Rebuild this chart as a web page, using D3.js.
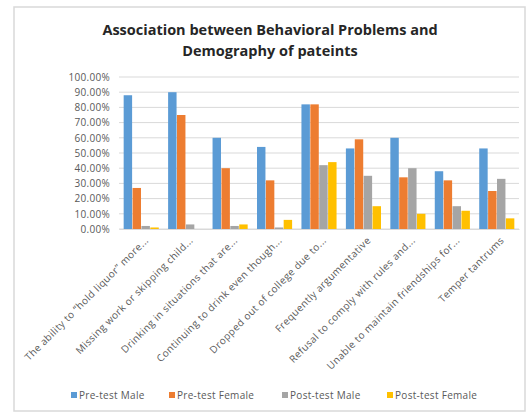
<!DOCTYPE html>
<html lang="en">
<head>
  <meta charset="utf-8">
  <title>Behavioral problems chart</title>
  <script src="https://d3js.org/d3.v7.min.js"></script>
  <style>
  body { margin: 0; background: #fff; }
  svg { font-family: "Open Sans", "Liberation Sans", sans-serif; }
  </style>
</head>
<body>
<script>
var categories = [
  "The ability to \u201chold liquor\u201d more...",
  "Missing work or skipping child...",
  "Drinking in situations that are...",
  "Continuing to drink even though...",
  "Dropped out of college due to...",
  "Frequently argumentative",
  "Refusal to comply with rules and...",
  "Unable to maintain friendships for...",
  "Temper tantrums"
];
var seriesNames = ["Pre-test Male", "Pre-test Female", "Post-test Male", "Post-test Female"];
var preMale    = [88, 90, 60, 54, 82, 53, 60, 38, 53];
var preFemale  = [27, 75, 40, 32, 82, 59, 34, 32, 25];
var postMale   = [2, 3, 2, 1, 42, 35, 40, 15, 33];
var postFemale = [1, 0, 3, 6, 44, 15, 10, 12, 7];
var yTicks = [0, 10, 20, 30, 40, 50, 60, 70, 80, 90, 100];
var colors = ["#5b9bd5", "#ed7d31", "#a5a5a5", "#ffc000"];

var allSeries = [preMale, preFemale, postMale, postFemale];

var W = 528, H = 414;
var plot = {left: 119, right: 519, top: 77, bottom: 229};

var svg = d3.select("body").append("svg")
  .attr("width", W)
  .attr("height", H);

// chart frame
svg.append("rect")
  .attr("x", 14).attr("y", 7)
  .attr("width", 511).attr("height", 404)
  .attr("fill", "#fff")
  .attr("stroke", "#d9d9d9")
  .attr("stroke-width", 1.5);

var title = ["Association between Behavioral Problems and", "Demography of pateints"];
svg.append("g")
  .selectAll("text")
  .data(title)
  .join("text")
  .attr("x", 270).attr("y", (d, i) => 35 + i * 21)
  .attr("text-anchor", "middle")
  .attr("font-size", 14.5).attr("font-weight", "bold").attr("fill", "#262626")
  .text(d => d);

var x0 = d3.scaleBand()
  .domain(d3.range(categories.length))
  .range([plot.left, plot.right])
  .paddingInner(0.19).paddingOuter(0.095);

var x1 = d3.scaleBand()
  .domain(d3.range(seriesNames.length))
  .range([0, x0.bandwidth()])
  .padding(0.05);

var y = d3.scaleLinear().domain([0, 100]).range([plot.bottom, plot.top]);

// gridlines
svg.append("g")
  .selectAll("line")
  .data(yTicks)
  .join("line")
  .attr("x1", plot.left).attr("x2", plot.right)
  .attr("y1", d => y(d)).attr("y2", d => y(d))
  .attr("stroke", "#d9d9d9").attr("stroke-width", 1);

// y axis labels
var yAxis = d3.axisLeft(y)
  .tickValues(yTicks)
  .tickSize(0)
  .tickPadding(9)
  .tickFormat(d => d.toFixed(2) + "%");
var gy = svg.append("g")
  .attr("transform", "translate(" + plot.left + ",0)")
  .call(yAxis);
gy.select(".domain").remove();
gy.selectAll("text")
  .attr("font-size", 10).attr("fill", "#595959")
  .attr("letter-spacing", 0.3)
  .attr("font-family", "'Open Sans', sans-serif");

// bars
var groups = svg.append("g")
  .selectAll("g")
  .data(categories)
  .join("g")
  .attr("transform", (d, i) => "translate(" + x0(i) + ",0)");

groups.selectAll("rect")
  .data((d, i) => allSeries.map((s, k) => ({k: k, v: s[i]})))
  .join("rect")
  .attr("x", d => x1(d.k))
  .attr("width", x1.bandwidth())
  .attr("y", d => y(d.v))
  .attr("height", d => y(0) - y(d.v))
  .attr("fill", d => colors[d.k]);

// x axis
var xAxis = d3.axisBottom(d3.scaleBand().domain(categories).range([plot.left, plot.right]))
  .tickSize(0)
  .tickPadding(0);
var gx = svg.append("g")
  .attr("transform", "translate(0," + plot.bottom + ")")
  .call(xAxis);
gx.select(".domain").attr("stroke", "#d9d9d9");
gx.selectAll("text")
  .attr("font-size", 10).attr("fill", "#595959")
  .attr("letter-spacing", 0.4)
  .attr("font-family", "'Open Sans', sans-serif")
  .attr("text-anchor", "end")
  .attr("dy", 0)
  .attr("transform", "translate(8,12) rotate(-45)");

// legend
var legendX = [71, 169, 282, 387];
var leg = svg.append("g")
  .selectAll("g")
  .data(seriesNames)
  .join("g")
  .attr("transform", (d, i) => "translate(" + legendX[i] + ",396)");
leg.append("rect")
  .attr("x", 0).attr("y", -4)
  .attr("width", 6).attr("height", 6)
  .attr("fill", (d, i) => colors[i]);
leg.append("text")
  .attr("x", 8).attr("y", 3)
  .attr("font-size", 10).attr("fill", "#595959")
  .attr("letter-spacing", 0.3)
  .text(d => d);
</script>
</body>
</html>
